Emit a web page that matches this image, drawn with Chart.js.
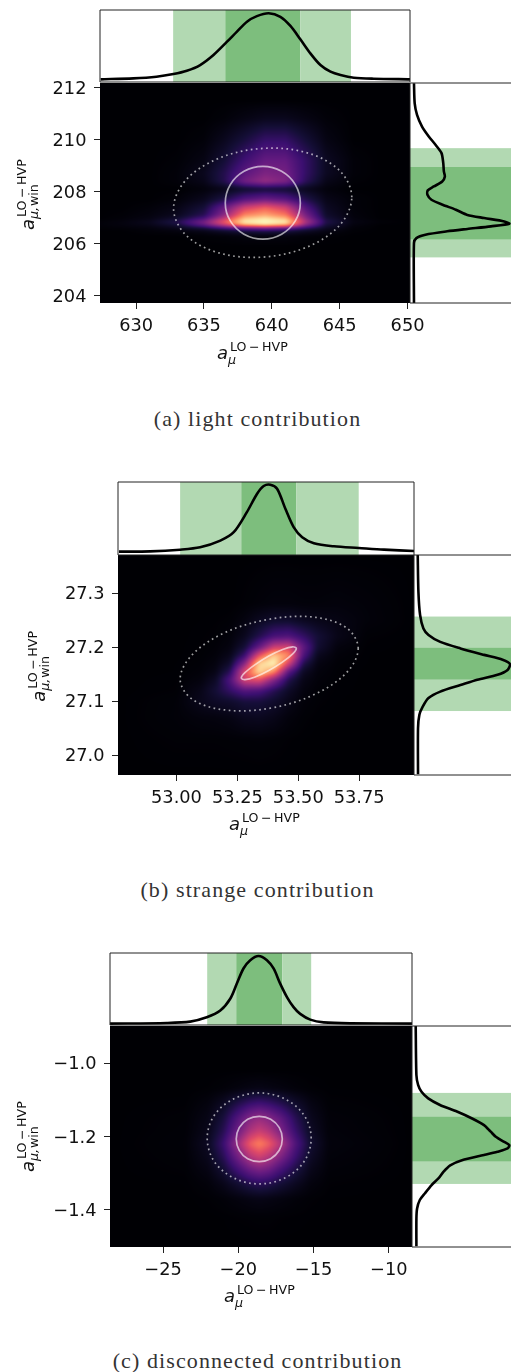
<!DOCTYPE html>
<html>
<head>
<meta charset="utf-8">
<style>
  html, body { margin: 0; padding: 0; background: #fff; }
  #page { position: relative; width: 511px; height: 1372px; overflow: hidden; }
  #page canvas { position: absolute; filter: blur(0.35px); }
  .caption { position: absolute; left: 0; width: 515px; text-align: center; line-height: 24px;
             font-family: "Liberation Serif", serif; font-size: 22px; letter-spacing: 1.1px; color: #333; }
</style>
</head>
<body>
<div id="page"></div>
<script src="https://cdn.jsdelivr.net/npm/chart.js@4/dist/chart.umd.min.js"></script>
<script>
// ---- light contribution ----
const lightXTicks = [630, 635, 640, 645, 650];
const lightXLabels = ['630', '635', '640', '645', '650'];
const lightYTicks = [212, 210, 208, 206, 204];
const lightYLabels = ['212', '210', '208', '206', '204'];
const lightBandX = [632.73, 636.57, 642.1, 645.83];
const lightBandY = [205.48, 206.16, 208.97, 209.67];
const lightTopX = [627.39, 629.8, 631.5, 632.75, 633.74, 634.72, 635.7, 636.7, 637.43, 638.17, 638.9, 639.77, 640.63, 641.37, 642.1, 642.84, 643.58, 644.32, 645.06, 646.04, 647.5, 650.18];
const lightTopD = [.037, .051, .074, .111, .157, .236, .375, .56, .70, .838, .915, .954, .905, .778, .593, .398, .236, .144, .097, .06, .046, .037];
const lightRightY = [203.73, 206.03, 206.22, 206.35, 206.48, 206.57, 206.67, 206.77, 206.86, 206.99, 207.11, 207.31, 207.5, 207.69, 207.88, 208.05, 208.2, 208.39, 208.58, 208.78, 209.1, 209.48, 209.8, 210.12, 210.5, 210.95, 211.39, 212.16];
const lightRightD = [.039, .039, .0625, .151, .365, .5625, .793, .974, .924, .727, .5625, .45, .32, .21, .171, .174, .234, .316, .342, .332, .326, .309, .25, .184, .118, .069, .046, .039];
const lightOuterX = [645.89, 645.01, 642.61, 639.32, 636.04, 633.64, 632.76, 633.64, 636.04, 639.32, 642.61, 645.01];
const lightOuterY = [207.79, 208.80, 209.49, 209.66, 209.27, 208.43, 207.36, 206.35, 205.66, 205.49, 205.88, 206.72];
const lightInnerX = [642.10, 641.73, 640.72, 639.34, 637.95, 636.94, 636.57, 636.94, 637.95, 639.34, 640.72, 641.73];
const lightInnerY = [207.57, 208.27, 208.78, 208.97, 208.78, 208.27, 207.57, 206.88, 206.37, 206.18, 206.37, 206.88];
const lightHeatX = [627.34, 629, 631, 633, 635, 636.5, 638, 639.5, 641, 642.5, 644, 646, 648, 650.18];
const lightHeatY = [212.17, 211.5, 210.8, 210, 209.2, 208.7, 208.4, 208.1, 207.7, 207.4, 207.1, 206.95, 206.85, 206.73, 206.62, 206.5, 206.3, 205.9, 203.73];
const lightHeatZ = [
  [0, 0, 0, 0, 0, 0, 0, 0, 0, 0, 0, 0, 0, 0],
  [0, 0, 0, 0, 0, 0, 0, 0, 0, 0, 0, 0, 0, 0],
  [0, 0, 0, 0, 0, .01, .03, .05, .05, .03, .01, 0, 0, 0],
  [0, 0, 0, 0, .01, .05, .11, .18, .18, .1, .03, 0, 0, 0],
  [0, 0, 0, .005, .03, .1, .21, .3, .3, .18, .06, .01, 0, 0],
  [0, 0, 0, .01, .05, .14, .28, .36, .34, .18, .06, .01, 0, 0],
  [0, 0, 0, .01, .04, .14, .33, .42, .36, .16, .04, .005, 0, 0],
  [0, 0, 0, 0, .015, .04, .08, .1, .09, .05, .015, 0, 0, 0],
  [0, 0, 0, .01, .05, .13, .26, .32, .27, .14, .04, .01, 0, 0],
  [0, 0, .01, .03, .1, .3, .55, .65, .55, .25, .06, .01, 0, 0],
  [0, .005, .02, .05, .15, .4, .75, .82, .72, .35, .08, .015, 0, 0],
  [0, .01, .03, .09, .25, .55, .9, .97, .88, .42, .11, .02, 0, 0],
  [.01, .02, .05, .14, .35, .65, .97, 1, .97, .48, .14, .03, .01, 0],
  [.01, .02, .04, .1, .3, .55, .85, .95, .85, .4, .11, .02, 0, 0],
  [.005, .01, .02, .05, .13, .25, .35, .4, .35, .2, .07, .01, 0, 0],
  [0, 0, .01, .02, .04, .08, .12, .14, .12, .07, .03, .005, 0, 0],
  [0, 0, 0, 0, .005, .01, .02, .02, .02, .01, .005, 0, 0, 0],
  [0, 0, 0, 0, 0, 0, 0, 0, 0, 0, 0, 0, 0, 0],
  [0, 0, 0, 0, 0, 0, 0, 0, 0, 0, 0, 0, 0, 0]
];

// ---- strange contribution ----
const strangeXTicks = [53, 53.25, 53.5, 53.75];
const strangeXLabels = ['53.00', '53.25', '53.50', '53.75'];
const strangeYTicks = [27.3, 27.2, 27.1, 27.0];
const strangeYLabels = ['27.3', '27.2', '27.1', '27.0'];
const strangeBandX = [53.015, 53.266, 53.492, 53.748];
const strangeBandY = [27.082, 27.14, 27.2, 27.257];
const strangeTopX = [52.764, 52.892, 53.015, 53.097, 53.18, 53.235, 53.289, 53.331, 53.358, 53.385, 53.413, 53.447, 53.481, 53.516, 53.564, 53.646, 53.748, 53.852, 53.977];
const strangeTopD = [.046, .05, .073, .105, .197, .312, .587, .839, .945, .963, .908, .633, .381, .243, .161, .119, .096, .073, .055];
const strangeRightY = [26.965, 27.05, 27.075, 27.09, 27.106, 27.118, 27.13, 27.14, 27.149, 27.158, 27.169, 27.177, 27.186, 27.198, 27.21, 27.223, 27.235, 27.26, 27.303, 27.371];
const strangeRightD = [.041, .041, .055, .089, .148, .268, .474, .646, .852, .955, .979, .904, .715, .474, .268, .148, .096, .062, .045, .038];
const strangeOuterX = [53.746, 53.698, 53.563, 53.381, 53.198, 53.064, 53.015, 53.064, 53.198, 53.381, 53.563, 53.698];
const strangeOuterY = [27.198, 27.236, 27.256, 27.252, 27.227, 27.186, 27.141, 27.104, 27.084, 27.087, 27.112, 27.153];
const strangeInnerX = [53.492, 53.477, 53.436, 53.379, 53.323, 53.281, 53.266, 53.281, 53.323, 53.379, 53.436, 53.477];
const strangeInnerY = [27.198, 27.201, 27.196, 27.184, 27.168, 27.153, 27.143, 27.14, 27.145, 27.157, 27.173, 27.188];
const strangeHeatX = [52.76, 53.0, 53.1, 53.16, 53.22, 53.28, 53.34, 53.4, 53.46, 53.52, 53.58, 53.66, 53.78, 53.98];
const strangeHeatY = [27.371, 27.28, 27.25, 27.22, 27.2, 27.185, 27.17, 27.155, 27.14, 27.12, 27.1, 27.07, 27.03, 26.96];
const strangeHeatZ = [
  [0, 0, 0, 0, 0, 0, 0, 0, 0, 0, 0, 0, 0, 0],
  [0, 0, 0, 0, 0, .004, .01, .015, .015, .012, .012, .015, .01, 0],
  [0, 0, .001, .002, .005, .022, .055, .08, .08, .055, .04, .03, .012, 0],
  [0, 0, .002, .004, .013, .05, .138, .23, .25, .18, .1, .039, .004, 0],
  [0, 0, .003, .007, .022, .1, .3, .55, .58, .3, .09, .018, .002, 0],
  [0, 0, .004, .011, .042, .19, .62, .9, .76, .25, .05, .01, .001, 0],
  [0, .001, .006, .02, .08, .38, .92, 1.0, .58, .14, .026, .006, .001, 0],
  [0, .001, .01, .033, .15, .6, .94, .76, .28, .065, .016, .004, 0, 0],
  [0, .002, .018, .065, .25, .58, .62, .38, .14, .036, .011, .003, 0, 0],
  [0, .003, .039, .1, .18, .26, .24, .15, .07, .02, .005, .002, 0, 0],
  [0, .007, .047, .068, .08, .11, .11, .08, .04, .011, .004, .001, 0, 0],
  [0, .008, .018, .021, .029, .05, .055, .04, .016, .005, .001, 0, 0, 0],
  [0, .004, .004, .004, .005, .006, .008, .006, .003, .001, 0, 0, 0, 0],
  [0, 0, 0, 0, 0, 0, 0, 0, 0, 0, 0, 0, 0, 0]
];

// ---- disconnected contribution ----
const discXTicks = [-25, -20, -15, -10];
const discXLabels = ['\u221225', '\u221220', '\u221215', '\u221210'];
const discYTicks = [-1.0, -1.2, -1.4];
const discYLabels = ['\u22121.0', '\u22121.2', '\u22121.4'];
const discBandX = [-22.07, -20.14, -17.08, -15.16];
const discBandY = [-1.33, -1.269, -1.145, -1.081];
const discTopX = [-28.53, -24.76, -23.2, -22.1, -21.2, -20.54, -20.1, -19.66, -19.21, -18.66, -18.1, -17.66, -17.22, -16.77, -16.33, -15.89, -15.22, -14.33, -12.56, -8.46];
const discTopD = [.019, .028, .047, .107, .2, .364, .575, .785, .9, .958, .9, .785, .575, .388, .248, .154, .075, .037, .023, .019];
const discRightY = [-1.5005, -1.425, -1.397, -1.374, -1.356, -1.333, -1.315, -1.297, -1.279, -1.265, -1.251, -1.242, -1.233, -1.224, -1.215, -1.201, -1.187, -1.169, -1.151, -1.132, -1.114, -1.096, -1.078, -1.059, -1.032, -0.898];
const discRightD = [.044, .044, .051, .078, .128, .196, .264, .314, .382, .5, .72, .855, .956, .973, .922, .838, .787, .72, .601, .449, .28, .162, .095, .061, .044, .037];
const discOuterX = [-15.16, -15.62, -16.88, -18.61, -20.34, -21.61, -22.07, -21.61, -20.34, -18.61, -16.88, -15.62];
const discOuterY = [-1.205, -1.143, -1.098, -1.081, -1.098, -1.143, -1.205, -1.268, -1.313, -1.33, -1.313, -1.268];
const discInnerX = [-17.08, -17.28, -17.85, -18.61, -19.38, -19.94, -20.14, -19.94, -19.38, -18.61, -17.85, -17.28];
const discInnerY = [-1.207, -1.176, -1.153, -1.145, -1.153, -1.176, -1.207, -1.238, -1.261, -1.269, -1.261, -1.238];
const discHeatX = [-28.53, -23.5, -22, -21, -20, -19.2, -18.6, -18, -17.2, -16.2, -15.2, -14, -8.46];
const discHeatY = [-0.898, -1.02, -1.07, -1.11, -1.15, -1.185, -1.22, -1.255, -1.29, -1.33, -1.37, -1.42, -1.5025];
const discHeatZ = [
  [0, 0, 0, 0, 0, 0, 0, 0, 0, 0, 0, 0, 0],
  [0, 0, 0, 0, 0, 0, 0, 0, 0, 0, 0, 0, 0],
  [0, 0, .003, .009, .02, .03, .035, .03, .022, .011, .004, .001, 0],
  [0, .002, .02, .06, .135, .19, .21, .19, .145, .08, .03, .005, 0],
  [0, .005, .035, .11, .26, .38, .42, .38, .29, .15, .05, .01, 0],
  [0, .006, .045, .145, .33, .48, .54, .49, .36, .19, .065, .012, 0],
  [0, .008, .062, .195, .44, .66, .74, .66, .49, .25, .09, .016, 0],
  [0, .006, .047, .15, .34, .5, .56, .5, .37, .2, .068, .012, 0],
  [0, .004, .03, .095, .22, .32, .36, .33, .23, .125, .043, .008, 0],
  [0, .001, .012, .04, .09, .135, .155, .14, .1, .055, .018, .003, 0],
  [0, 0, .003, .009, .02, .03, .035, .03, .022, .011, .004, .001, 0],
  [0, 0, 0, .001, .003, .004, .005, .005, .003, .002, .001, 0, 0],
  [0, 0, 0, 0, 0, 0, 0, 0, 0, 0, 0, 0, 0]
];

const captions = ['(a) light contribution', '(b) strange contribution', '(c) disconnected contribution'];
const magma = ['#000004', '#140e36', '#3b0f70', '#641a80', '#8c2981', '#b73779', '#de4968', '#f7705c', '#fe9f6d', '#fecf92', '#fcfdbf'];

const SPINE = '#222';
const RING = 'rgba(255,255,255,0.62)';
const BAND_LIGHT = '#b2d9b2';
const BAND_DARK = '#7dbe7d';
const TICK_FONT = { family: 'DejaVu Sans', size: 17.8 };

const panels = [
  { left: 100, right: 409.5, top: 83, bottom: 303, topTop: 10, topBottom: 82, xMin: 627.34, xMax: 650.18, yMin: 203.73, yMax: 212.17,
    xTicks: lightXTicks, xLabels: lightXLabels, yTicks: lightYTicks, yLabels: lightYLabels, bandX: lightBandX, bandY: lightBandY,
    topX: lightTopX, topD: lightTopD, rightY: lightRightY, rightD: lightRightD, outerX: lightOuterX, outerY: lightOuterY, innerX: lightInnerX, innerY: lightInnerY,
    heatX: lightHeatX, heatY: lightHeatY, heatZ: lightHeatZ, blur: 3, xTitle: [217, 358.5], yTitle: [34, 230], captionY: 419 },
  { left: 118, right: 413.5, top: 555, bottom: 775, topTop: 481.7, topBottom: 554, xMin: 52.76, xMax: 53.975, yMin: 26.9635, yMax: 27.371,
    xTicks: strangeXTicks, xLabels: strangeXLabels, yTicks: strangeYTicks, yLabels: strangeYLabels, bandX: strangeBandX, bandY: strangeBandY,
    topX: strangeTopX, topD: strangeTopD, rightY: strangeRightY, rightD: strangeRightD, outerX: strangeOuterX, outerY: strangeOuterY, innerX: strangeInnerX, innerY: strangeInnerY,
    heatX: strangeHeatX, heatY: strangeHeatY, heatZ: strangeHeatZ, blur: 6, xTitle: [229, 830], yTitle: [45, 701.7], captionY: 890 },
  { left: 110, right: 411.5, top: 1026, bottom: 1246.5, topTop: 953, topBottom: 1024.5, xMin: -28.53, xMax: -8.46, yMin: -1.5025, yMax: -0.898,
    xTicks: discXTicks, xLabels: discXLabels, yTicks: discYTicks, yLabels: discYLabels, bandX: discBandX, bandY: discBandY,
    topX: discTopX, topD: discTopD, rightY: discRightY, rightD: discRightD, outerX: discOuterX, outerY: discOuterY, innerX: discInnerX, innerY: discInnerY,
    heatX: discHeatX, heatY: discHeatY, heatZ: discHeatZ, blur: 5, xTitle: [224, 1301.7], yTitle: [33.5, 1172], captionY: 1361 }
];

const page = document.getElementById('page');

function addCanvas(left, top, width, height) {
  const c = document.createElement('canvas');
  c.width = Math.ceil(width);
  c.height = Math.ceil(height);
  c.style.left = left + 'px';
  c.style.top = top + 'px';
  page.appendChild(c);
  return c;
}

function magmaRGB(z) {
  const t = Math.max(0, Math.min(1, z)) * (magma.length - 1);
  const i = Math.min(magma.length - 2, Math.floor(t));
  const f = t - i;
  const a = magma[i], b = magma[i + 1];
  const out = [];
  for (let k = 0; k < 3; k++) {
    const p = parseInt(a.substr(1 + k * 2, 2), 16), q = parseInt(b.substr(1 + k * 2, 2), 16);
    out.push(p + (q - p) * f);
  }
  return out;
}

function locate(nodes, v) {
  for (let i = 0; i < nodes.length - 1; i++) {
    const a = nodes[i], b = nodes[i + 1];
    if ((v >= a && v <= b) || (v <= a && v >= b)) return [i, (v - a) / (b - a)];
  }
  const before = (v < nodes[0]) === (nodes[0] < nodes[1]);
  return before ? [0, 0] : [nodes.length - 2, 1];
}

// smooth a per pixel field, roughly what imshow with interpolation gives
function boxBlur(f, w, h, passes) {
  let src = f;
  for (let p = 0; p < passes; p++) {
    const dst = new Float32Array(w * h);
    for (let y = 0; y < h; y++) for (let x = 0; x < w; x++) {
      let s = 0;
      for (let dy = -1; dy <= 1; dy++) for (let dx = -1; dx <= 1; dx++) {
        const xx = Math.max(0, Math.min(w - 1, x + dx)), yy = Math.max(0, Math.min(h - 1, y + dy));
        s += src[yy * w + xx];
      }
      dst[y * w + x] = s / 9;
    }
    src = dst;
  }
  return src;
}

const heatPlugin = {
  id: 'heat',
  beforeDatasetsDraw(chart, args, opts) {
    const area = chart.chartArea;
    const w = Math.round(area.width), h = Math.round(area.height);
    const xs = chart.scales.x, ys = chart.scales.y;
    let field = new Float32Array(w * h);
    const xPos = [];
    for (let i = 0; i < w; i++) xPos.push(locate(opts.xs, xs.getValueForPixel(area.left + i + .5)));
    for (let j = 0; j < h; j++) {
      const [r, fy] = locate(opts.ys, ys.getValueForPixel(area.top + j + .5));
      for (let i = 0; i < w; i++) {
        const [c, fx] = xPos[i];
        const top = opts.zs[r][c] * (1 - fx) + opts.zs[r][c + 1] * fx;
        const bot = opts.zs[r + 1][c] * (1 - fx) + opts.zs[r + 1][c + 1] * fx;
        field[j * w + i] = top * (1 - fy) + bot * fy;
      }
    }
    field = boxBlur(field, w, h, opts.blur);
    const off = document.createElement('canvas');
    off.width = w; off.height = h;
    const octx = off.getContext('2d');
    const img = octx.createImageData(w, h);
    for (let n = 0; n < w * h; n++) {
      const rgb = magmaRGB(field[n]);
      img.data[n * 4] = rgb[0]; img.data[n * 4 + 1] = rgb[1]; img.data[n * 4 + 2] = rgb[2]; img.data[n * 4 + 3] = 255;
    }
    octx.putImageData(img, 0, 0);
    chart.ctx.drawImage(off, area.left, area.top, area.width, area.height);
  }
};

const bandPlugin = {
  id: 'bands',
  beforeDatasetsDraw(chart, args, opts) {
    if (!opts.vals) return;
    const ctx = chart.ctx, area = chart.chartArea;
    const scale = chart.scales[opts.axis];
    const colors = [BAND_LIGHT, BAND_DARK, BAND_LIGHT];
    for (let i = 0; i < 3; i++) {
      const a = scale.getPixelForValue(opts.vals[i]), b = scale.getPixelForValue(opts.vals[i + 1]);
      ctx.fillStyle = colors[i];
      if (opts.axis === 'x') ctx.fillRect(a, area.top, b - a, area.height);
      else ctx.fillRect(area.left, b, area.width, a - b);
    }
  }
};

const framePlugin = {
  id: 'frame',
  afterDatasetsDraw(chart, args, opts) {
    const ctx = chart.ctx, a = chart.chartArea;
    ctx.save();
    ctx.strokeStyle = SPINE;
    ctx.lineWidth = 1;
    ctx.beginPath();
    if (opts.sides.includes('l')) { ctx.moveTo(a.left, a.top); ctx.lineTo(a.left, a.bottom); }
    if (opts.sides.includes('r')) { ctx.moveTo(a.right, a.top); ctx.lineTo(a.right, a.bottom); }
    if (opts.sides.includes('t')) { ctx.moveTo(a.left, a.top); ctx.lineTo(a.right, a.top); }
    if (opts.sides.includes('b')) { ctx.moveTo(a.left, a.bottom); ctx.lineTo(a.right, a.bottom); }
    ctx.stroke();
    ctx.restore();
  }
};

function drawMath(ctx, x, y, sub) {
  ctx.fillStyle = '#111';
  ctx.textBaseline = 'alphabetic';
  ctx.textAlign = 'left';
  ctx.font = 'italic 18px "DejaVu Sans"';
  ctx.fillText('a', x, y);
  ctx.font = '12.6px "DejaVu Sans"';
  ctx.fillText('LO\u2009\u2212\u2009HVP', x + 13, y - 8);
  if (sub === 'win') {
    ctx.font = 'italic 12.6px "DejaVu Sans"';
    ctx.fillText('\u03bc,', x + 11, y + 4);
    ctx.font = '12.6px "DejaVu Sans"';
    ctx.fillText('win', x + 24, y + 4);
  } else {
    ctx.font = 'italic 12.6px "DejaVu Sans"';
    ctx.fillText('\u03bc', x + 11, y + 5);
  }
}

const titlePlugin = {
  id: 'mathTitles',
  afterDraw(chart, args, opts) {
    const ctx = chart.ctx;
    ctx.save();
    drawMath(ctx, opts.x[0], opts.x[1], 'plain');
    ctx.translate(opts.y[0], opts.y[1]);
    ctx.rotate(-Math.PI / 2);
    drawMath(ctx, 0, 0, 'win');
    ctx.restore();
  }
};

const toPoints = (xs, ys) => xs.map((x, i) => ({ x, y: ys[i] }));

// ring dataset: one extra point on each end keeps the spline smooth where it closes,
// those two end segments stay transparent
function ringDataset(xs, ys, dash) {
  const pts = toPoints(xs, ys);
  const data = [pts[pts.length - 1]].concat(pts, [pts[0], pts[1]]);
  const last = data.length - 1;
  return {
    data, showLine: true, pointRadius: 0, tension: 0.35, borderColor: RING, borderWidth: 1.7, borderDash: dash,
    segment: { borderColor: c => (c.p0DataIndex === 0 || c.p1DataIndex === last) ? 'transparent' : RING }
  };
}

panels.forEach((p, idx) => {
  const plotH = p.bottom - p.top;
  const PAD = 12, XROOM = 70, RPAD = 25;
  const dy = p.top - PAD;

  // main density panel
  const mainCv = addCanvas(0, dy, p.right + RPAD, plotH + PAD + XROOM);
  new Chart(mainCv, {
    type: 'scatter',
    data: { datasets: [ringDataset(p.outerX, p.outerY, [1.7, 3.4]), ringDataset(p.innerX, p.innerY, [])] },
    options: {
      responsive: false, animation: false,
      layout: { padding: { top: PAD, right: RPAD, left: 0, bottom: 0 } },
      plugins: {
        legend: { display: false }, tooltip: { enabled: false }, title: { display: false },
        heat: { xs: p.heatX, ys: p.heatY, zs: p.heatZ, blur: p.blur },
        mathTitles: { x: [p.xTitle[0], p.xTitle[1] - dy], y: [p.yTitle[0], p.yTitle[1] - dy] }
      },
      scales: {
        x: {
          type: 'linear', min: p.xMin, max: p.xMax,
          grid: { drawOnChartArea: false, drawTicks: true, tickLength: 6, color: SPINE, lineWidth: 1 },
          border: { display: false },
          afterBuildTicks: ax => { ax.ticks = p.xTicks.map(value => ({ value })); },
          afterFit: ax => { ax.height = XROOM; ax.paddingLeft = ax.paddingRight = 0; },
          ticks: { autoSkip: false, maxRotation: 0, padding: 7, color: '#111', font: TICK_FONT, callback: (v, i) => p.xLabels[i] }
        },
        y: {
          type: 'linear', min: p.yMin, max: p.yMax,
          grid: { drawOnChartArea: false, drawTicks: true, tickLength: 6, color: SPINE, lineWidth: 1 },
          border: { display: false },
          afterBuildTicks: ax => { ax.ticks = p.yTicks.map(value => ({ value })); },
          afterFit: ax => { ax.width = p.left; ax.paddingTop = ax.paddingBottom = 0; },
          ticks: { autoSkip: false, padding: 7.5, labelOffset: 1.5, color: '#111', font: TICK_FONT, callback: (v, i) => p.yLabels[i] }
        }
      }
    },
    plugins: [heatPlugin, titlePlugin]
  });

  // marginal on top
  const M = 2;
  const topCv = addCanvas(p.left - M, p.topTop - M, p.right - p.left + 2 * M, p.topBottom - p.topTop + 2 * M);
  new Chart(topCv, {
    type: 'scatter',
    data: { datasets: [{ data: toPoints(p.topX, p.topD), showLine: true, pointRadius: 0, tension: 0.3, borderColor: '#000', borderWidth: 2.6 }] },
    options: {
      responsive: false, animation: false,
      layout: { padding: M },
      plugins: { legend: { display: false }, tooltip: { enabled: false }, bands: { axis: 'x', vals: p.bandX }, frame: { sides: 'lrtb' } },
      scales: { x: { type: 'linear', display: false, min: p.xMin, max: p.xMax }, y: { type: 'linear', display: false, min: 0, max: 1 } }
    },
    plugins: [bandPlugin, framePlugin]
  });

  // marginal on the right, cut by the page edge
  const rightCv = addCanvas(p.right - M, p.top - M, 511 - p.right + M, plotH + 2 * M);
  new Chart(rightCv, {
    type: 'scatter',
    data: { datasets: [{ data: toPoints(p.rightD, p.rightY), showLine: true, pointRadius: 0, tension: 0.25, borderColor: '#000', borderWidth: 2.6 }] },
    options: {
      responsive: false, animation: false,
      layout: { padding: { left: M, top: M, bottom: M, right: 0 } },
      plugins: { legend: { display: false }, tooltip: { enabled: false }, bands: { axis: 'y', vals: p.bandY }, frame: { sides: 'ltb' } },
      scales: { x: { type: 'linear', display: false, min: 0, max: 1 }, y: { type: 'linear', display: false, min: p.yMin, max: p.yMax } }
    },
    plugins: [bandPlugin, framePlugin]
  });

  const cap = document.createElement('div');
  cap.className = 'caption';
  cap.style.top = (p.captionY - 12) + 'px';
  cap.textContent = captions[idx];
  page.appendChild(cap);
});
</script>
</body>
</html>
